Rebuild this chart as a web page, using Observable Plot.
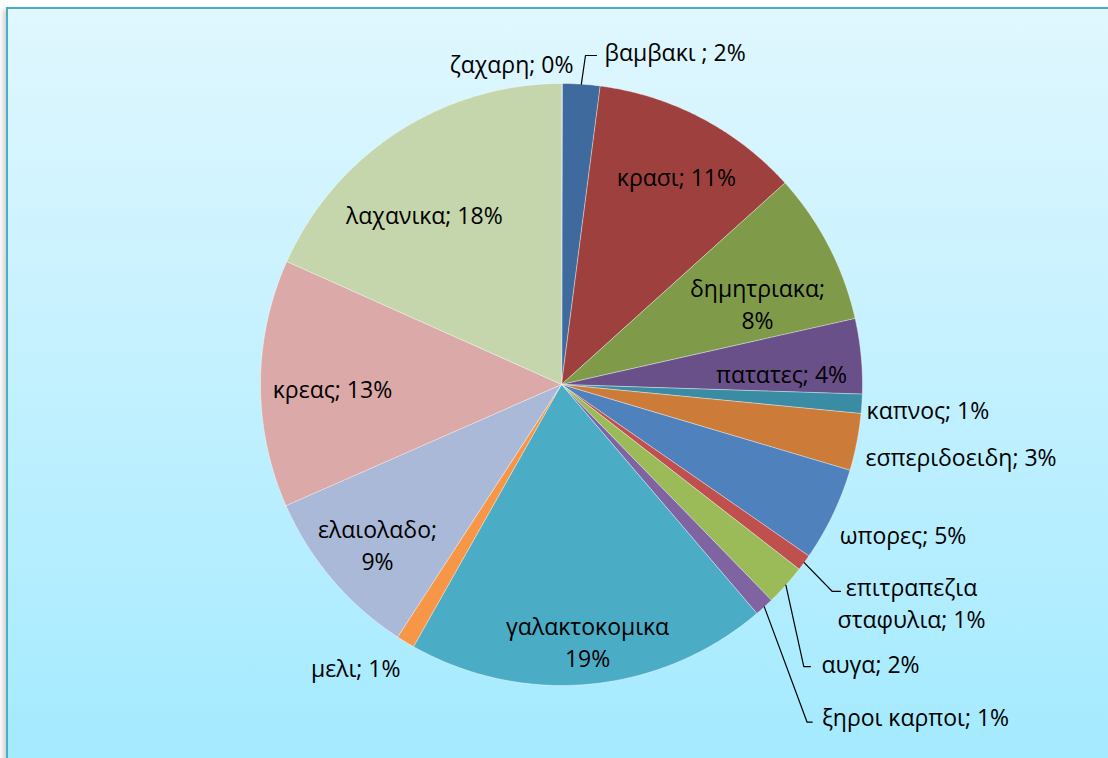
<!DOCTYPE html>
<html><head><meta charset="utf-8">
<script src="https://cdn.jsdelivr.net/npm/d3@7"></script>
<script src="https://cdn.jsdelivr.net/npm/@observablehq/plot@0.6"></script>
<style>
html,body{margin:0;padding:0;background:#fff;width:1108px;height:758px;overflow:hidden;}
#frame{position:absolute;left:6px;top:7px;width:1200px;height:800px;border-left:2px solid #4BACC6;border-top:2px solid #4BACC6;
  background:linear-gradient(to bottom,#E0F7FE 0px,#A4EAFF 751px,#A4EAFF 800px);box-shadow:-3px 2px 5px rgba(0,0,0,0.18);}
#chart{position:absolute;left:0;top:0;}
</style></head><body><div id="frame"></div><div id="chart"></div>
<script>
// ---- data ----
const categories = ["ζαχαρη","βαμβακι ","κρασι","δημητριακα","πατατες","καπνος","εσπεριδοειδη","ωπορες",
  "επιτραπεζια σταφυλια","αυγα","ξηροι καρποι","γαλακτοκομικα","μελι","ελαιολαδο","κρεας","λαχανικα"];
const values = [0.05, 2.0, 11.27, 8.16, 4.03, 1.03, 3.06, 5.05, 0.87, 2.2, 1.04, 19.43, 0.98, 9.25, 13.29, 18.31];
const palette = ["#4F81BD","#3E6A9E","#9E413E","#7F9A48","#6A5088","#3A8CA4","#CC7B38","#4F81BD",
  "#C0504D","#9BBB59","#8064A2","#4BACC6","#F79646","#AAB9D7","#DBA9A8","#C6D6AC"];

// ---- label layout (angle nudge in degrees from slice middle, radius as fraction of pie radius) ----
const labelLayout = [
  {da:-8.9, r:1.083, sep:"; "},
  {da:15.0, r:1.172, sep:"; ", leader:[[0.0797,-1.093],[0.1163,-1.093]]},
  {da:1.15, r:0.792, sep:"; "},
  {da:4.66, r:0.706, sep:";\n"},
  {da:2.3,  r:0.732, sep:"; "},
  {da:0.06, r:1.220, sep:"; "},
  {da:-0.95,r:1.348, sep:"; "},
  {da:-2.05,r:1.238, sep:"; "},
  {da:-4.5, r:1.368, sep:"; ", breakName:true, leader:[[0.899,0.687],[0.927,0.687]]},
  {da:0.17, r:1.381, sep:"; ", leader:[[0.805,0.937],[0.827,0.937]]},
  {da:-4.56,r:1.610, sep:"; ", leader:[[0.816,1.122],[0.833,1.122]]},
  {da:-0.3, r:0.855, sep:"\n"},
  {da:4.9,  r:1.160, sep:"; "},
  {da:-0.46,r:0.808, sep:";\n"},
  {da:-0.98,r:0.761, sep:"; "},
  {da:-5.8, r:0.728, sep:"; "}
];

// ---- geometry from data ----
const total = d3.sum(values);
let acc = 0;
const slices = categories.map((name, i) => {
  const a0 = acc / total * 2 * Math.PI; acc += values[i];
  const a1 = acc / total * 2 * Math.PI;
  return {name, share: values[i] / total, a0, a1};
});
const pt = (a, r) => [r * Math.sin(a), -r * Math.cos(a)];
const features = slices.map(s => {
  const n = Math.max(2, Math.ceil((s.a1 - s.a0) / (Math.PI / 360)));
  const ring = [[0, 0]];
  for (let k = 0; k <= n; k++) ring.push(pt(s.a0 + (s.a1 - s.a0) * k / n, 1));
  ring.push([0, 0]);
  return {type: "Feature", properties: {name: s.name}, geometry: {type: "Polygon", coordinates: [ring]}};
});
const labels = slices.map((s, i) => {
  const L = labelLayout[i];
  const mid = (s.a0 + s.a1) / 2;
  const [x, y] = pt(mid + L.da * Math.PI / 180, L.r);
  const nm = (L.breakName ? s.name.replace(" ", "\n") : s.name);
  return {x, y, text: nm + L.sep + Math.round(s.share * 100) + "%"};
});
const leaders = slices.flatMap((s, i) => {
  const L = labelLayout[i];
  if (!L.leader) return [];
  const mid = (s.a0 + s.a1) / 2;
  return [{type: "Feature", properties: {}, geometry: {type: "LineString", coordinates: [pt(mid, 1), ...L.leader]}}];
});

const chart = Plot.plot({
  width: 1108, height: 758,
  marginLeft: 260, marginRight: 246, marginTop: 83, marginBottom: 73,
  style: {background: "transparent", overflow: "visible"},
  projection: {type: "identity", domain: {type: "Polygon", coordinates: [[[-1,-1],[1,-1],[1,1],[-1,1],[-1,-1]]]}, clip: false},
  color: {domain: categories, range: palette},
  marks: [
    Plot.geo(features, {fill: d => d.properties.name, stroke: "#ffffff", strokeWidth: 0.7, strokeOpacity: 0.6}),
    Plot.geo(leaders, {stroke: "#000", strokeWidth: 1.2, fill: "none", clip: false}),
    Plot.text(labels, {x: "x", y: "y", text: "text", fontSize: 23, fontFamily: "Open Sans", fill: "#000",
      textAnchor: "middle", lineAnchor: "middle", lineHeight: 1.4, clip: false})
  ]
});
document.getElementById("chart").appendChild(chart);
</script>
</body></html>
